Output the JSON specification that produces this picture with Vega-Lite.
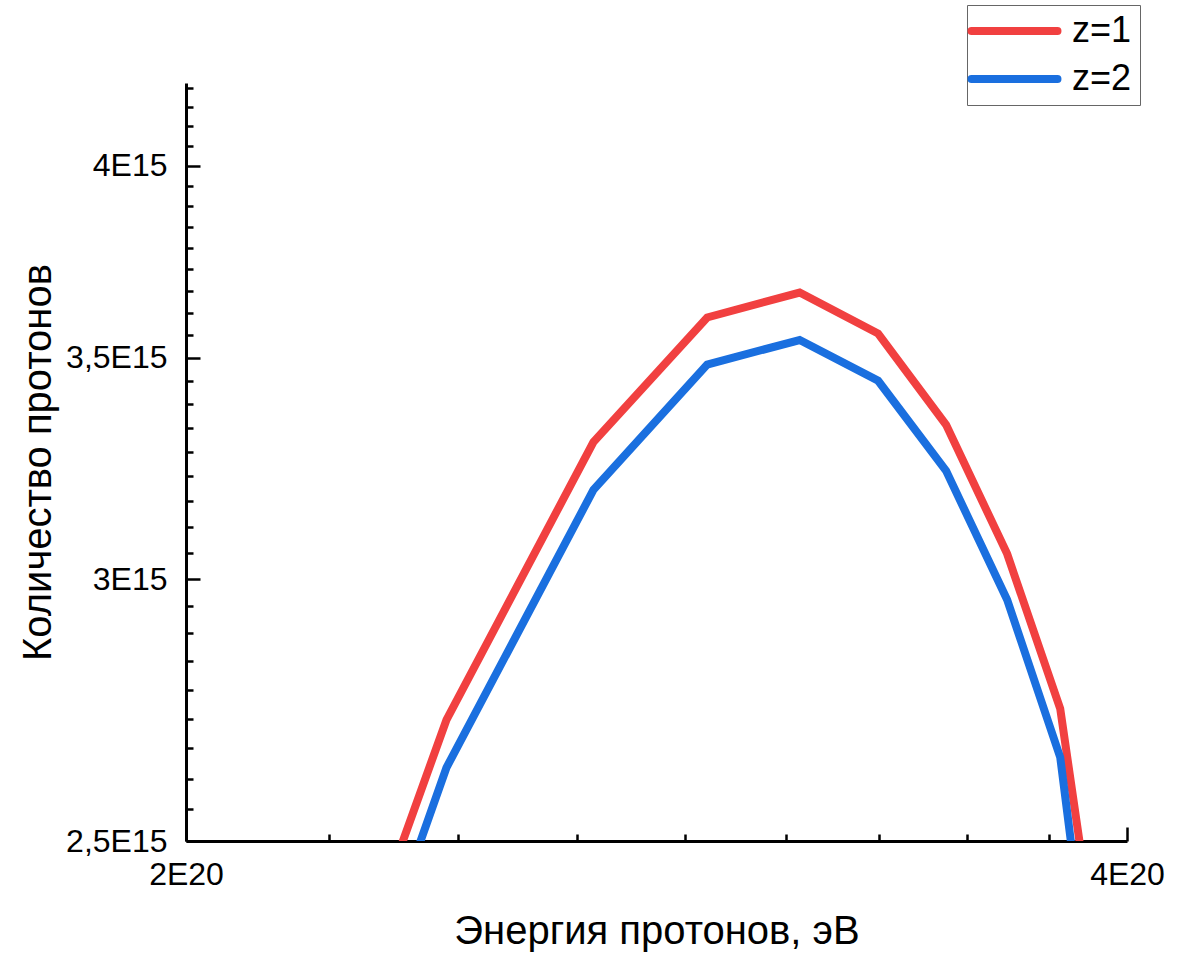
{
  "$schema": "https://vega.github.io/schema/vega-lite/v6.json",
  "width": 941,
  "height": 758,
  "autosize": {"type": "none"},
  "padding": {"left": 186, "top": 83, "right": 68, "bottom": 115},
  "background": "white",
  "config": {
    "view": {"stroke": null},
    "font": "Liberation Sans",
    "axis": {
      "domainColor": "black",
      "domainWidth": 3,
      "tickColor": "black",
      "tickWidth": 2.5,
      "labelColor": "black",
      "titleColor": "black",
      "labelFont": "Liberation Sans",
      "titleFont": "Liberation Sans",
      "titleFontWeight": "normal",
      "grid": false
    }
  },
  "data": {
    "values": [
      {"E": 2.09e20, "N": 1.844e15, "z": "z=1"},
      {"E": 2.423e20, "N": 2.720e15, "z": "z=1"},
      {"E": 2.700e20, "N": 3.300e15, "z": "z=1"},
      {"E": 2.936e20, "N": 3.599e15, "z": "z=1"},
      {"E": 3.143e20, "N": 3.662e15, "z": "z=1"},
      {"E": 3.330e20, "N": 3.559e15, "z": "z=1"},
      {"E": 3.501e20, "N": 3.340e15, "z": "z=1"},
      {"E": 3.662e20, "N": 3.053e15, "z": "z=1"},
      {"E": 3.808e20, "N": 2.741e15, "z": "z=1"},
      {"E": 3.943e20, "N": 2.185e15, "z": "z=1"},
      {"E": 2.09e20, "N": 1.771e15, "z": "z=2"},
      {"E": 2.423e20, "N": 2.631e15, "z": "z=2"},
      {"E": 2.700e20, "N": 3.192e15, "z": "z=2"},
      {"E": 2.936e20, "N": 3.483e15, "z": "z=2"},
      {"E": 3.143e20, "N": 3.543e15, "z": "z=2"},
      {"E": 3.330e20, "N": 3.444e15, "z": "z=2"},
      {"E": 3.501e20, "N": 3.2345e15, "z": "z=2"},
      {"E": 3.662e20, "N": 2.957e15, "z": "z=2"},
      {"E": 3.808e20, "N": 2.650e15, "z": "z=2"},
      {"E": 3.943e20, "N": 2.0435e15, "z": "z=2"}
    ]
  },
  "layer": [
    {
      "mark": {"type": "line", "strokeWidth": 8, "clip": true, "strokeJoin": "miter"},
      "encoding": {
        "x": {
          "field": "E",
          "type": "quantitative",
          "scale": {"type": "log", "domain": [2e20, 4e20], "nice": false},
          "axis": {
            "values": [2e20, 4e20],
            "labelExpr": "format(datum.value/1e20, '~g') + 'E20'",
            "labelFontSize": 32,
            "labelFlush": false,
            "tickSize": -14,
            "labelPadding": 32,
            "title": "Энергия протонов, эВ",
            "titleFontSize": 40,
            "titlePadding": 21
          }
        },
        "y": {
          "field": "N",
          "type": "quantitative",
          "scale": {"type": "log", "domain": [2.5e15, 4.237e15], "nice": false},
          "axis": {
            "values": [2.5e15, 3e15, 3.5e15, 4e15],
            "labelExpr": "replace(format(datum.value/1e15, '~g'), '.', ',') + 'E15'",
            "labelFontSize": 32,
            "labelFlush": false,
            "tickSize": -14,
            "labelPadding": 33,
            "title": "Количество протонов",
            "titleFontSize": 40,
            "titlePadding": 7
          }
        },
        "color": {
          "field": "z",
          "type": "nominal",
          "scale": {"domain": ["z=1", "z=2"], "range": ["#F14040", "#1A6FDF"]},
          "legend": {
            "orient": "none",
            "legendX": 781,
            "legendY": -78,
            "title": null,
            "symbolType": "M-2,0H6",
            "symbolStrokeWidth": 8,
            "symbolSize": 462,
            "labelFontSize": 36,
            "labelColor": "black",
            "labelFont": "Liberation Sans",
            "labelOffset": 61,
            "rowPadding": 12,
            "padding": 8,
            "strokeColor": "#666666",
            "fillColor": "white",
            "encode": {"symbols": {"update": {"strokeCap": {"value": "round"}}}}
          }
        }
      }
    },
    {
      "mark": {"type": "point", "opacity": 0},
      "encoding": {
        "x": {
          "field": "E",
          "type": "quantitative",
          "axis": {
            "orient": "bottom",
            "values": [2.2222e20, 2.4444e20, 2.6667e20, 2.8889e20, 3.1111e20, 3.3333e20, 3.5556e20, 3.7778e20],
            "labels": false,
            "domain": false,
            "tickSize": -7,
            "title": null
          }
        },
        "y": {
          "field": "N",
          "type": "quantitative",
          "axis": {
            "orient": "left",
            "values": [2.5556e15, 2.6111e15, 2.6667e15, 2.7222e15, 2.7778e15, 2.8333e15, 2.8889e15, 2.9444e15, 3.0556e15, 3.1111e15, 3.1667e15, 3.2222e15, 3.2778e15, 3.3333e15, 3.3889e15, 3.4444e15, 3.5556e15, 3.6111e15, 3.6667e15, 3.7222e15, 3.7778e15, 3.8333e15, 3.8889e15, 3.9444e15, 4.0556e15, 4.1111e15, 4.1667e15, 4.2222e15],
            "labels": false,
            "domain": false,
            "tickSize": -7,
            "title": null
          }
        }
      }
    }
  ],
  "resolve": {"axis": {"x": "independent", "y": "independent"}}
}
